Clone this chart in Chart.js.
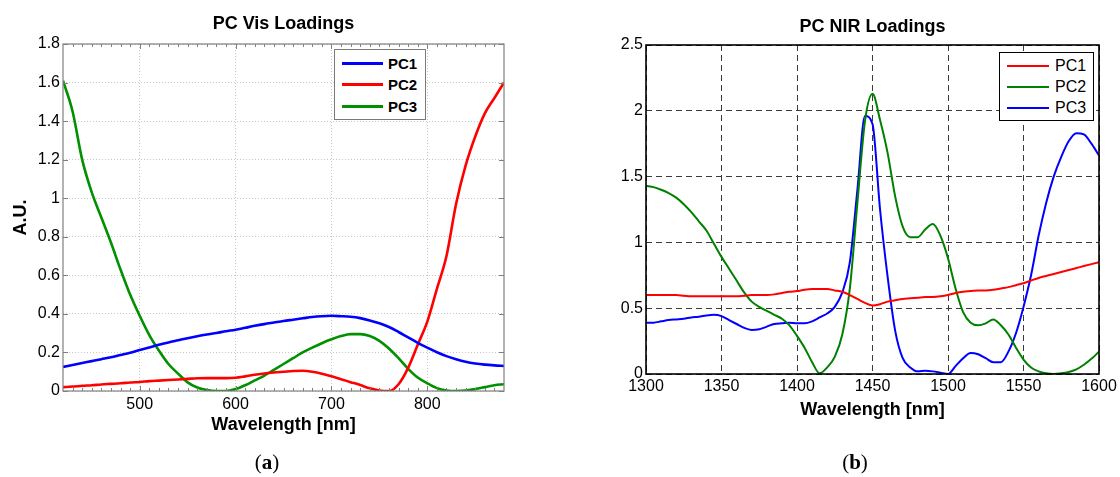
<!DOCTYPE html>
<html>
<head>
<meta charset="utf-8">
<title>PC Loadings</title>
<script src="https://cdn.jsdelivr.net/npm/chart.js@4.4.1/dist/chart.umd.min.js"></script>
<style>
  html, body { margin: 0; padding: 0; background: #fff; }
  body { width: 1120px; height: 477px; position: relative; overflow: hidden; font-family: "Liberation Sans", Arial, sans-serif; }
  canvas { position: absolute; top: 0; }
  #visChart { left: 0; }
  #nirChart { left: 560px; }
  .legend { position: absolute; background: #fff; box-sizing: border-box; color: #000; }
  .legend .row { display: flex; align-items: center; }
  .legend .sw { display: inline-block; height: 0; border-top-style: solid; }
  #visLegend { left: 334px; top: 49px; width: 92px; height: 71px; border: 1px solid #7a7a7a; padding-top: 3px; font-weight: bold; font-size: 15px; }
  #visLegend .row { height: 21.3px; }
  #visLegend .sw { width: 41px; margin-left: 7px; margin-right: 5px; border-top-width: 3px; }
  #nirLegend { left: 999px; top: 52px; width: 95px; height: 69px; border: 1.5px solid #000; padding-top: 2.5px; font-size: 16px; }
  #nirLegend .row { height: 21px; }
  #nirLegend .sw { width: 42px; margin-left: 7px; margin-right: 6px; border-top-width: 2px; }
  .caption { position: absolute; width: 100px; text-align: center; top: 450px; line-height: 24px; font-size: 21px; font-family: "Liberation Serif", "DejaVu Serif", serif; }
</style>
</head>
<body>
<canvas id="visChart" width="560" height="477"></canvas>
<canvas id="nirChart" width="560" height="477"></canvas>
<div class="legend" id="visLegend"></div>
<div class="legend" id="nirLegend"></div>
<div class="caption" style="left:217px">(<b>a</b>)</div>
<div class="caption" style="left:805px">(<b>b</b>)</div>

<script>
// ---- (a) visible range, every 10 nm ----
const visWavelength = [420, 430, 440, 450, 460, 470, 480, 490, 500, 510,
  520, 530, 540, 550, 560, 570, 580, 590, 600, 610,
  620, 630, 640, 650, 660, 670, 680, 690, 700, 710,
  720, 730, 740, 750, 760, 770, 780, 790, 800, 810,
  820, 830, 840, 850, 860, 870, 880];
const visPC1 = [0.125, 0.135, 0.145, 0.155, 0.165, 0.175, 0.187, 0.199, 0.213, 0.226,
  0.24, 0.252, 0.263, 0.274, 0.284, 0.293, 0.301, 0.31, 0.318, 0.328,
  0.338, 0.347, 0.355, 0.363, 0.37, 0.377, 0.384, 0.388, 0.39, 0.388,
  0.385, 0.378, 0.366, 0.351, 0.332, 0.306, 0.278, 0.25, 0.225, 0.201,
  0.181, 0.165, 0.152, 0.143, 0.137, 0.133, 0.13];
const visPC2 = [0.02, 0.023, 0.027, 0.03, 0.034, 0.037, 0.04, 0.044, 0.047, 0.051,
  0.054, 0.057, 0.06, 0.063, 0.066, 0.067, 0.067, 0.067, 0.069, 0.076,
  0.084, 0.091, 0.096, 0.1, 0.104, 0.105, 0.1, 0.09, 0.076, 0.061,
  0.046, 0.031, 0.014, 0.003, 0, 0.035, 0.12, 0.24, 0.36, 0.53,
  0.7, 0.97, 1.17, 1.32, 1.44, 1.52, 1.6];
const visPC3 = [1.61, 1.45, 1.2, 1.03, 0.9, 0.77, 0.63, 0.5, 0.39, 0.29,
  0.21, 0.14, 0.09, 0.045, 0.018, 0.005, 0, 0, 0.01, 0.03,
  0.055, 0.08, 0.11, 0.14, 0.17, 0.2, 0.225, 0.248, 0.268, 0.285,
  0.295, 0.295, 0.285, 0.26, 0.22, 0.17, 0.115, 0.07, 0.04, 0.015,
  0.003, 0, 0.002, 0.01, 0.02, 0.03, 0.035];
const visXTicks = [500, 600, 700, 800];
const visYTicks = [0, 0.2, 0.4, 0.6, 0.8, 1, 1.2, 1.4, 1.6, 1.8];

// ---- (b) NIR range, every 5 nm ----
const nirWavelength = [1300, 1305, 1310, 1315, 1320, 1325, 1330, 1335, 1340, 1345,
  1350, 1355, 1360, 1365, 1370, 1375, 1380, 1385, 1390, 1395,
  1400, 1405, 1410, 1415, 1420, 1425, 1430, 1435, 1440, 1445,
  1450, 1455, 1460, 1465, 1470, 1475, 1480, 1485, 1490, 1495,
  1500, 1505, 1510, 1515, 1520, 1525, 1530, 1535, 1540, 1545,
  1550, 1555, 1560, 1565, 1570, 1575, 1580, 1585, 1590, 1595,
  1600];
const nirPC1 = [0.6, 0.6, 0.6, 0.6, 0.6, 0.595, 0.59, 0.59, 0.59, 0.59,
  0.59, 0.59, 0.59, 0.595, 0.6, 0.6, 0.6, 0.605, 0.615, 0.625,
  0.63, 0.64, 0.645, 0.645, 0.645, 0.635, 0.625, 0.6, 0.57, 0.54,
  0.52, 0.53, 0.55, 0.56, 0.57, 0.575, 0.58, 0.585, 0.585, 0.59,
  0.6, 0.615, 0.625, 0.63, 0.635, 0.635, 0.64, 0.65, 0.66, 0.675,
  0.69, 0.71, 0.73, 0.745, 0.76, 0.775, 0.79, 0.805, 0.82, 0.835,
  0.85];
const nirPC2 = [1.43, 1.42, 1.4, 1.375, 1.34, 1.29, 1.23, 1.16, 1.09, 0.99,
  0.89, 0.8, 0.71, 0.62, 0.55, 0.51, 0.48, 0.45, 0.42, 0.37,
  0.29, 0.2, 0.09, 0.005, 0.05, 0.13, 0.3, 0.65, 1.3, 1.92,
  2.13, 1.93, 1.68, 1.35, 1.12, 1.04, 1.04, 1.1, 1.14, 1.05,
  0.88, 0.65, 0.47, 0.39, 0.37, 0.385, 0.415, 0.37, 0.3, 0.2,
  0.11, 0.05, 0.02, 0.005, 0, 0.005, 0.015, 0.035, 0.07, 0.115,
  0.17];
const nirPC3 = [0.39, 0.39, 0.4, 0.41, 0.415, 0.42, 0.43, 0.435, 0.445, 0.45,
  0.44, 0.41, 0.38, 0.35, 0.335, 0.34, 0.36, 0.38, 0.385, 0.39,
  0.385, 0.385, 0.4, 0.43, 0.46, 0.51, 0.62, 0.85, 1.4, 1.96,
  1.9, 1.25, 0.74, 0.33, 0.12, 0.05, 0.02, 0.025, 0.02, 0.01,
  0, 0.06, 0.12, 0.16, 0.15, 0.12, 0.09, 0.09, 0.17, 0.31,
  0.51, 0.75, 1.05, 1.3, 1.5, 1.65, 1.77, 1.83, 1.82, 1.75,
  1.66];
const nirXTicks = [1300, 1350, 1400, 1450, 1500, 1550, 1600];
const nirYTicks = [0, 0.5, 1, 1.5, 2, 2.5];

const FONT = '"Liberation Sans", Arial, sans-serif';

function pairs(xs, ys) {
  return xs.map((x, i) => ({ x: x, y: ys[i] }));
}

// title centred over the plot area (chart.js title centres over the whole canvas)
const plotTitle = {
  id: 'plotTitle',
  afterDraw(chart, args, opts) {
    const { ctx, chartArea } = chart;
    ctx.save();
    ctx.font = 'bold 18px ' + FONT;
    ctx.fillStyle = '#000';
    ctx.textAlign = 'center';
    ctx.textBaseline = 'middle';
    ctx.fillText(opts.text, (chartArea.left + chartArea.right) / 2, opts.y);
    ctx.restore();
  }
};

// matlab style box + little inward ticks
const plotFrame = {
  id: 'plotFrame',
  afterDraw(chart, args, opts) {
    const { ctx, chartArea: a, scales } = chart;
    ctx.save();
    ctx.strokeStyle = opts.color;
    ctx.lineWidth = opts.width;
    if (opts.minorStep) {
      ctx.lineWidth = 1;
      ctx.beginPath();
      for (let v = scales.x.min + opts.minorStep; v < scales.x.max; v += opts.minorStep) {
        const px = Math.round(scales.x.getPixelForValue(v)) + 0.5;
        const len = v % 100 === 0 ? 5 : 3;
        ctx.moveTo(px, a.bottom); ctx.lineTo(px, a.bottom - len);
        ctx.moveTo(px, a.top); ctx.lineTo(px, a.top + len);
      }
      scales.y.ticks.forEach(t => {
        const py = Math.round(scales.y.getPixelForValue(t.value)) + 0.5;
        ctx.moveTo(a.left, py); ctx.lineTo(a.left + 5, py);
        ctx.moveTo(a.right, py); ctx.lineTo(a.right - 5, py);
      });
      ctx.stroke();
      ctx.lineWidth = opts.width;
    }
    ctx.strokeRect(a.left, a.top, a.right - a.left, a.bottom - a.top);
    ctx.restore();
  }
};

function buildLegend(chart, el) {
  chart.data.datasets.forEach(ds => {
    const row = document.createElement('div');
    row.className = 'row';
    const sw = document.createElement('span');
    sw.className = 'sw';
    sw.style.borderTopColor = ds.borderColor;
    const label = document.createElement('span');
    label.textContent = ds.label;
    row.append(sw, label);
    el.append(row);
  });
}

function lineSet(label, xs, ys, color, width) {
  return {
    label: label,
    data: pairs(xs, ys),
    borderColor: color,
    borderWidth: width,
    pointRadius: 0,
    fill: false,
    cubicInterpolationMode: 'monotone'
  };
}

function axis(min, max, tickList, size, tickPad, gridColor, dash, title) {
  return {
    type: 'linear',
    min: min,
    max: max,
    afterBuildTicks: s => { s.ticks = tickList.map(v => ({ value: v })); },
    afterFit: s => {
      if (s.isHorizontal()) s.height = size; else s.width = size;
    },
    ticks: {
      autoSkip: false,
      maxRotation: 0,
      padding: tickPad,
      color: '#000',
      font: { family: FONT, size: 16 },
      callback: v => String(v)
    },
    grid: { color: gridColor, lineWidth: 1, drawTicks: false },
    border: { display: false, dash: dash },
    title: title
  };
}

// ---------- (a) PC Vis Loadings ----------
const visChart = new Chart(document.getElementById('visChart'), {
  type: 'line',
  data: {
    datasets: [
      lineSet('PC1', visWavelength, visPC1, '#0000ff', 2.6),
      lineSet('PC2', visWavelength, visPC2, '#ff0000', 2.6),
      lineSet('PC3', visWavelength, visPC3, '#009000', 2.6)
    ]
  },
  options: {
    responsive: false,
    animation: false,
    devicePixelRatio: 1,
    layout: { padding: { top: 44, right: 56, left: 0, bottom: 0 } },
    plugins: {
      legend: { display: false },
      tooltip: { enabled: false },
      plotTitle: { text: 'PC Vis Loadings', y: 24 },
      plotFrame: { color: '#808080', width: 1.2, minorStep: 10 }
    },
    scales: {
      x: axis(420, 880, visXTicks, 86, 4, '#c8c8c8', [1, 2], {
        display: true, text: 'Wavelength [nm]', color: '#000',
        font: { family: FONT, size: 18, weight: 'bold' }, padding: { top: 0, bottom: 41 }
      }),
      y: axis(0, 1.8, visYTicks, 63, 3, '#c8c8c8', [1, 2], {
        display: true, text: 'A.U.', color: '#000',
        font: { family: FONT, size: 18, weight: 'bold' }, padding: { top: 10, bottom: 0 }
      })
    }
  },
  plugins: [plotTitle, plotFrame]
});

// ---------- (b) PC NIR Loadings ----------
const nirChart = new Chart(document.getElementById('nirChart'), {
  type: 'line',
  data: {
    datasets: [
      lineSet('PC1', nirWavelength, nirPC1, '#ff0000', 2),
      lineSet('PC2', nirWavelength, nirPC2, '#008000', 2),
      lineSet('PC3', nirWavelength, nirPC3, '#0000ff', 2)
    ]
  },
  options: {
    responsive: false,
    animation: false,
    devicePixelRatio: 1,
    layout: { padding: { top: 45, right: 21, left: 0, bottom: 0 } },
    plugins: {
      legend: { display: false },
      tooltip: { enabled: false },
      plotTitle: { text: 'PC NIR Loadings', y: 27 },
      plotFrame: { color: '#000', width: 1.6 }
    },
    scales: {
      x: axis(1300, 1600, nirXTicks, 103, 3, '#3a3a3a', [6, 4], {
        display: true, text: 'Wavelength [nm]', color: '#000',
        font: { family: FONT, size: 18, weight: 'bold' }, padding: { top: 0, bottom: 56 }
      }),
      y: axis(0, 2.5, nirYTicks, 86, 3, '#3a3a3a', [6, 4], { display: false })
    }
  },
  plugins: [plotTitle, plotFrame]
});

buildLegend(visChart, document.getElementById('visLegend'));
buildLegend(nirChart, document.getElementById('nirLegend'));
</script>
</body>
</html>
